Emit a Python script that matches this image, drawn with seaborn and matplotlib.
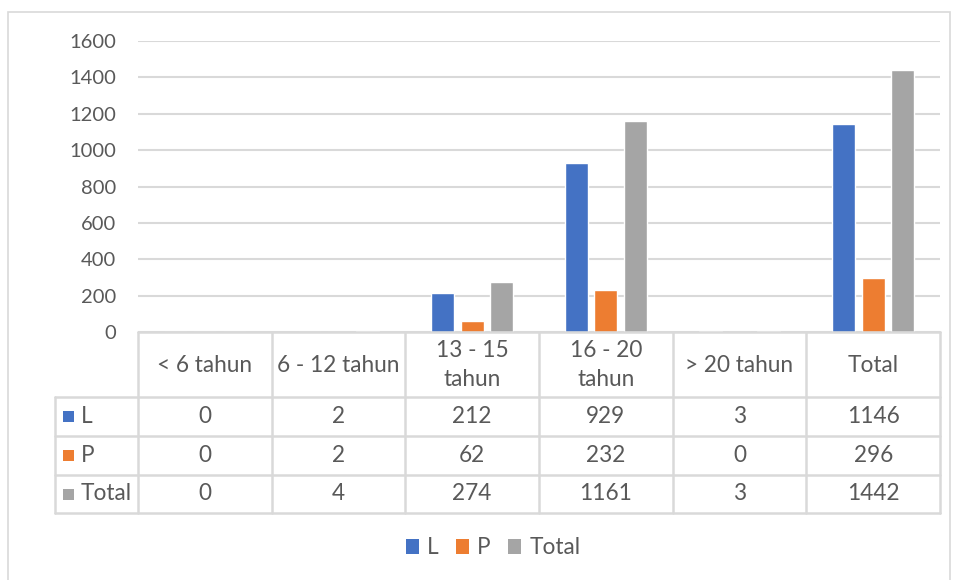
import matplotlib
matplotlib.use("Agg")
import matplotlib.pyplot as plt
import matplotlib.transforms as mtransforms
from matplotlib.patches import Rectangle
import seaborn as sns
import pandas as pd

# ---- data -------------------------------------------------------------
categories = ["< 6 tahun", "6 - 12 tahun", "13 - 15 tahun", "16 - 20 tahun", "> 20 tahun", "Total"]
header_labels = ["< 6 tahun", "6 - 12 tahun", "13 - 15\ntahun", "16 - 20\ntahun", "> 20 tahun", "Total"]
series_names = ["L", "P", "Total"]
values_L = [0, 2, 212, 929, 3, 1146]
values_P = [0, 2, 62, 232, 0, 296]
values_Total = [0, 4, 274, 1161, 3, 1442]
y_ticks = [0, 200, 400, 600, 800, 1000, 1200, 1400, 1600]

colors = {"L": "#4472C4", "P": "#ED7D31", "Total": "#A5A5A5"}
grid_c = "#D9D9D9"
text_c = "#595959"

series_values = {"L": values_L, "P": values_P, "Total": values_Total}
df = pd.DataFrame(
    [(c, s, series_values[s][i]) for s in series_names for i, c in enumerate(categories)],
    columns=["kelompok", "seri", "jumlah"],
)

# ---- figure -----------------------------------------------------------
sns.set_theme(style="white")
plt.rcParams["font.family"] = ["Lato", "DejaVu Sans"]

W, H = 954, 580
fig = plt.figure(figsize=(W / 100, H / 100), dpi=100)

def fx(px):
    return px / W

def fy(py):
    return 1 - py / H

x0, x1, ytop, ybot = 138, 940, 41, 332
ax = fig.add_axes([fx(x0), fy(ybot), fx(x1) - fx(x0), fy(ytop) - fy(ybot)])

sns.barplot(data=df, x="kelompok", y="jumlah", hue="seri", order=categories,
            hue_order=series_names, palette=colors, width=0.66, gap=0.22,
            saturation=1, ax=ax, legend=False)

fs_tick = 14.5
fs = 16.3
ax.set_xlim(-0.5, len(categories) - 0.5)
ax.set_ylim(0, 1600)
ax.set_yticks(y_ticks)
ax.set_yticklabels([str(v) for v in y_ticks], color=text_c, fontsize=fs_tick)
ax.tick_params(axis="y", length=0, pad=16)
ax.set_xticks([])
ax.set_xlabel("")
ax.set_ylabel("")
for sp in ax.spines.values():
    sp.set_visible(False)
ax.yaxis.grid(True, color=grid_c, linewidth=1.5)
ax.set_axisbelow(True)

# ---- outer chart frame ------------------------------------------------
fig.patches.append(Rectangle((fx(8), fy(600)), fx(950) - fx(8), fy(12) - fy(600),
                             transform=fig.transFigure, fill=False,
                             edgecolor="#D9D9D9", linewidth=1.2))

# ---- data table below the axis ---------------------------------------
tr = mtransforms.blended_transform_factory(ax.transData, fig.transFigure)
col_w = (x1 - x0) / len(categories)
row_lines = [332, 397, 436, 475, 513]
lw = 1.8
n = len(categories)

# horizontal lines
fig.add_artist(plt.Line2D([fx(x0), fx(x1)], [fy(332), fy(332)], color=grid_c, lw=lw))
for yy in row_lines[1:]:
    fig.add_artist(plt.Line2D([fx(55), fx(x1)], [fy(yy), fy(yy)], color=grid_c, lw=lw))
# vertical lines
for k in range(n + 1):
    xx = x0 + k * col_w
    fig.add_artist(plt.Line2D([fx(xx), fx(xx)], [fy(332), fy(513)], color=grid_c, lw=lw))
fig.add_artist(plt.Line2D([fx(55), fx(55)], [fy(397), fy(513)], color=grid_c, lw=lw))

# header cells
for i, lab in enumerate(header_labels):
    ax.text(i, fy(365), lab, transform=tr, ha="center", va="center",
            fontsize=fs, color=text_c, linespacing=1.45)

# row cells
row_centers = [(397 + 436) / 2, (436 + 475) / 2, (475 + 513) / 2]
for r, s in enumerate(series_names):
    yc = row_centers[r]
    fig.patches.append(Rectangle((fx(63), fy(yc + 5.5)), fx(11), 11 / H,
                                 transform=fig.transFigure, facecolor=colors[s],
                                 edgecolor="none"))
    fig.text(fx(81), fy(yc), s, ha="left", va="center", fontsize=fs, color=text_c)
    for i, v in enumerate(series_values[s]):
        ax.text(i, fy(yc), str(v), transform=tr, ha="center", va="center",
                fontsize=fs, color=text_c)

# ---- legend -----------------------------------------------------------
handles = [Rectangle((0, 0), 1, 1, facecolor=colors[s], edgecolor="none") for s in series_names]
fig.legend(handles, series_names, loc="center", bbox_to_anchor=(fx(493), fy(548)),
           ncol=3, frameon=False, fontsize=fs, handlelength=0.6, handleheight=0.6,
           handletextpad=0.35, columnspacing=0.75, labelcolor=text_c)

fig.savefig("out.png", dpi=100)
